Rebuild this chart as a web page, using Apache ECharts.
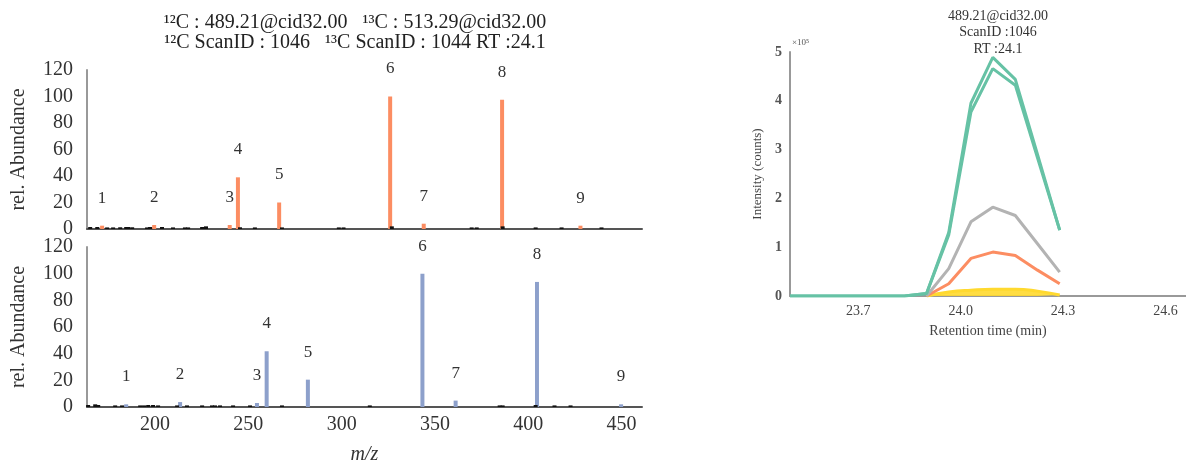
<!DOCTYPE html>
<html>
<head>
<meta charset="utf-8">
<script src="https://cdn.jsdelivr.net/npm/echarts@6/dist/echarts.min.js"></script>
<style>html,body{margin:0;padding:0;background:#fff}#c{width:1186px;height:468px}</style>
</head>
<body>
<div id="c"></div>
<script>
// ---- Data ----
const peakLabels = ['1','2','3','4','5','6','7','8','9'];
const topPeakMz  = [171.6, 199.5, 240.0, 244.4, 266.5, 326.0, 344.0, 386.0, 428.0];
const topPeakInt = [2.5, 3, 3, 39, 20, 100, 4, 97.5, 2.5];
const topNoiseMz = [165.2, 169, 174.3, 177.5, 181.3, 184.5, 185.5, 187.7, 195.7, 197.3, 203.7, 209.6, 216, 217.7, 225.2, 226.2, 227.3, 245.5, 253.5, 268, 298.5, 301, 326.9, 369.7, 372.4, 386.3, 404, 417.9, 439.3];
const topNoiseInt = [1.5, 1.5, 1.2, 1.2, 1.3, 1.5, 1.5, 1.3, 1.2, 1.5, 1.5, 1.2, 1.2, 1.2, 1.5, 1.5, 2, 1.3, 1.2, 1.2, 1.2, 1.2, 2, 1.2, 1.2, 2, 1.2, 1.2, 1.2];

const botPeakMz  = [184.5, 213.4, 254.6, 259.8, 281.9, 343.3, 361.1, 404.7, 449.8];
const botPeakInt = [2, 3.7, 3, 41.8, 20.5, 100, 4.8, 93.8, 2];
const botNoiseMz = [164.1, 167.9, 169.5, 178.6, 182.3, 192, 194.1, 196.3, 198.9, 201.6, 211.8, 217.1, 225.2, 230.5, 232.1, 234.8, 241.8, 250.9, 268, 315.1, 384.7, 386.3, 404, 414.1, 422.7];
const botNoiseInt = [1.5, 2, 1.5, 1.2, 1.2, 1.2, 1.2, 1.5, 1.5, 1.2, 1.2, 1.2, 1.2, 1.2, 1.2, 1.2, 1.2, 1.2, 1.2, 1.2, 1.2, 1.2, 1.5, 1.2, 1.2];

const mzTicks = [200, 250, 300, 350, 400, 450];

const rtTimes  = [23.5, 23.835, 23.9, 23.965, 24.03, 24.094, 24.16, 24.225, 24.29];
const green1   = [0, 0, 0.05, 1.30, 3.95, 4.89, 4.44, 2.90, 1.35];
const green2   = [0, 0, 0.05, 1.25, 3.77, 4.66, 4.32, 2.83, 1.35];
const grayLine = [null, null, 0, 0.56, 1.52, 1.82, 1.65, 1.07, 0.49];
const orangeLn = [null, null, 0, 0.25, 0.77, 0.90, 0.83, 0.53, 0.25];
const yellowLn = [null, null, 0, 0.08, 0.12, 0.14, 0.14, 0.10, 0.02];
const rtTicks  = [23.7, 24.0, 24.3, 24.6];

// ---- Build ----
const SERIF = 'Liberation Serif';
const ORANGE = '#fc8d62', BLUE = '#8da0cb', GREEN = '#66c2a5', GRAY = '#b3b3b3', YELLOW = '#ffd92f';

function specData(pMz, pInt, nMz, nInt, color) {
  const d = [];
  pMz.forEach((m, i) => d.push({
    value: [m, pInt[i]],
    itemStyle: { color: color },
    label: { show: true, formatter: peakLabels[i] }
  }));
  nMz.forEach((m, i) => d.push({ value: [m, nInt[i]], itemStyle: { color: '#111' } }));
  return d;
}
function pairs(ys) { return rtTimes.map((t, i) => [t, ys[i]]); }

const yAxisSpec = (gi) => ({
  gridIndex: gi, type: 'value', min: 0, max: 120, interval: 20,
  name: 'rel. Abundance', nameLocation: 'middle', nameGap: 58,
  nameTextStyle: { fontFamily: SERIF, fontSize: 20, color: '#333' },
  axisLine: { show: true, lineStyle: { color: '#999', width: 2 } },
  axisTick: { show: false }, splitLine: { show: false },
  axisLabel: { fontFamily: SERIF, fontSize: 20, color: '#333', margin: 14 }
});
const xAxisSpec = (gi, showLabels) => ({
  gridIndex: gi, type: 'value', min: 163.5, max: 461,
  axisLine: { show: true, onZero: false, lineStyle: { color: '#555', width: 2 } },
  axisTick: { show: false }, splitLine: { show: false },
  axisLabel: { show: showLabels, customValues: mzTicks, fontFamily: SERIF, fontSize: 20, color: '#333', margin: 8 },
  name: showLabels ? 'm/z' : '', nameLocation: 'middle', nameGap: 38,
  nameTextStyle: { fontFamily: SERIF, fontSize: 20, fontStyle: 'italic', color: '#333' }
});

const labelStyle = { position: 'top', distance: 19, fontFamily: SERIF, fontSize: 17, color: '#333' };

const option = {
  animation: false,
  backgroundColor: '#fff',
  title: [
    {
      text: '¹²C : 489.21@cid32.00   ¹³C : 513.29@cid32.00\n¹²C ScanID : 1046   ¹³C ScanID : 1044 RT :24.1',
      left: 350, top: 8, textAlign: 'center',
      textStyle: { fontFamily: SERIF, fontSize: 20, fontWeight: 'normal', color: '#222', lineHeight: 20 }
    },
    {
      text: '489.21@cid32.00\nScanID :1046\nRT :24.1',
      left: 993, top: 3, textAlign: 'center',
      textStyle: { fontFamily: SERIF, fontSize: 14, fontWeight: 'normal', color: '#333', lineHeight: 16.5 }
    }
  ],
  graphic: [{
    type: 'text', left: 792, top: 38,
    style: { text: '×10⁵', fontFamily: SERIF, fontSize: 9, fill: '#555' }
  }],
  grid: [
    { left: 87, top: 70, width: 555, height: 159 },
    { left: 87, top: 247, width: 555, height: 160 },
    { left: 790, top: 52, right: 0, height: 244 }
  ],
  xAxis: [
    xAxisSpec(0, false),
    xAxisSpec(1, true),
    {
      gridIndex: 2, type: 'value', min: 23.5, max: 24.66,
      axisLine: { show: true, onZero: false, lineStyle: { color: '#999', width: 2 } },
      axisTick: { show: false }, splitLine: { show: false },
      axisLabel: { customValues: rtTicks, formatter: v => v.toFixed(1), fontFamily: SERIF, fontSize: 14, color: '#444', margin: 8 },
      name: 'Retention time (min)', nameLocation: 'middle', nameGap: 28,
      nameTextStyle: { fontFamily: SERIF, fontSize: 14, color: '#444' }
    }
  ],
  yAxis: [
    yAxisSpec(0),
    yAxisSpec(1),
    {
      gridIndex: 2, type: 'value', min: 0, max: 5, interval: 1,
      name: 'Intensity (counts)', nameLocation: 'middle', nameGap: 26,
      nameTextStyle: { fontFamily: SERIF, fontSize: 13, color: '#444' },
      axisLine: { show: true, lineStyle: { color: '#999', width: 2 } },
      axisTick: { show: false }, splitLine: { show: false },
      axisLabel: { fontFamily: SERIF, fontSize: 14, fontWeight: 'bold', color: '#555', margin: 8 }
    }
  ],
  series: [
    { type: 'bar', xAxisIndex: 0, yAxisIndex: 0, barWidth: 4, label: labelStyle,
      data: specData(topPeakMz, topPeakInt, topNoiseMz, topNoiseInt, ORANGE) },
    { type: 'bar', xAxisIndex: 1, yAxisIndex: 1, barWidth: 4, label: labelStyle,
      data: specData(botPeakMz, botPeakInt, botNoiseMz, botNoiseInt, BLUE) },
    { type: 'line', xAxisIndex: 2, yAxisIndex: 2, data: pairs(yellowLn), symbol: 'none', smooth: true,
      lineStyle: { color: YELLOW, width: 3 }, areaStyle: { color: YELLOW, opacity: 0.9 } },
    { type: 'line', xAxisIndex: 2, yAxisIndex: 2, data: pairs(orangeLn), symbol: 'none',
      lineStyle: { color: ORANGE, width: 3 } },
    { type: 'line', xAxisIndex: 2, yAxisIndex: 2, data: pairs(grayLine), symbol: 'none',
      lineStyle: { color: GRAY, width: 3 } },
    { type: 'line', xAxisIndex: 2, yAxisIndex: 2, data: pairs(green2), symbol: 'none',
      lineStyle: { color: GREEN, width: 3 } },
    { type: 'line', xAxisIndex: 2, yAxisIndex: 2, data: pairs(green1), symbol: 'none',
      lineStyle: { color: GREEN, width: 3 } }
  ]
};

echarts.init(document.getElementById('c'), null, { renderer: 'canvas' }).setOption(option);
</script>
</body>
</html>
